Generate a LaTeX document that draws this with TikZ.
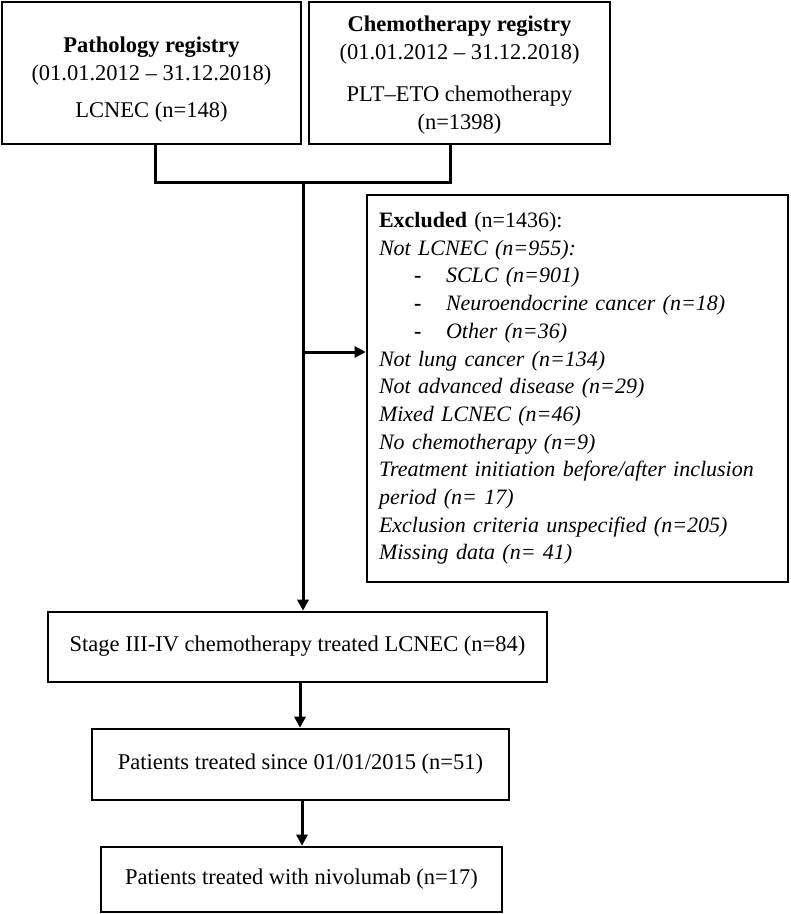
\documentclass[tikz,border=0pt]{standalone}
\usepackage{fontspec}
\setmainfont{Liberation Serif}
\usetikzlibrary{arrows.meta,positioning}
\begin{document}
\begin{tikzpicture}[x=1pt,y=-1pt,
  box/.style={draw, line width=2.6pt, rectangle, inner sep=0pt, align=center,
    font=\fontsize{22.5}{27.5}\selectfont},
  conn/.style={line width=3pt},
  arr/.style={line width=3pt, -{Triangle[length=11pt,width=11pt]}}]
\useasboundingbox (0,0) rectangle (791,914);
\node[box, minimum width=299pt, minimum height=142pt] (path) at (151.5,73)
  {\rule{0pt}{29pt}\textbf{Pathology registry}\\(01.01.2012 -- 31.12.2018)\\[10pt]LCNEC (n=148)};
\node[box, minimum width=301pt, minimum height=142pt] (chemo) at (459.5,73)
  {\rule{0pt}{20pt}\textbf{Chemotherapy registry}\\(01.01.2012 -- 31.12.2018)\\[15pt]PLT--ETO chemotherapy\\(n=1398)};
\node[box, minimum width=421pt, minimum height=387pt, text width=397pt, align=left,
  font=\fontsize{22}{27.7}\selectfont] (excl) at (577.5,388.5)
  {\textbf{Excluded} (n=1436):\\
   \textit{Not LCNEC (n=955):}\\
   \hspace*{35pt}\makebox[32pt][l]{\textbf{-}}\textit{SCLC (n=901)}\\
   \hspace*{35pt}\makebox[32pt][l]{\textbf{-}}\textit{Neuroendocrine cancer (n=18)}\\
   \hspace*{35pt}\makebox[32pt][l]{\textbf{-}}\textit{Other (n=36)}\\
   \textit{Not lung cancer (n=134)}\\
   \textit{Not advanced disease (n=29)}\\
   \textit{Mixed LCNEC (n=46)}\\
   \textit{No chemotherapy (n=9)}\\
   \textit{Treatment initiation before/after inclusion}\\
   \textit{period (n= 17)}\\
   \textit{Exclusion criteria unspecified (n=205)}\\
   \textit{Missing data (n= 41)}};
\node[box, minimum width=499pt, minimum height=70pt] (stage) at (297.5,647)
  {\raisebox{6pt}{Stage III-IV chemotherapy treated LCNEC (n=84)}};
\node[box, minimum width=417pt, minimum height=71pt] (since) at (300.5,764.5)
  {Patients treated since 01/01/2015 (n=51)};
\node[box, minimum width=401pt, minimum height=65pt] (nivo) at (301.5,879.5)
  {Patients treated with nivolumab (n=17)};
\coordinate (jl) at (155,182);
\coordinate (jr) at (450,182);
\coordinate (jm) at (303,182);
\coordinate (jb) at (303,352);
\draw[conn] (path.south -| jl) -- (jl) -- (jr) -- (chemo.south -| jr);
\draw[arr] (jm) -- (stage.north -| jm);
\draw[arr] (jb) -- (excl.west |- jb);
\draw[arr] (stage.south -| 300,0) -- (since.north -| 300,0);
\draw[arr] (since.south -| 302,0) -- (nivo.north -| 302,0);
\end{tikzpicture}
\end{document}
